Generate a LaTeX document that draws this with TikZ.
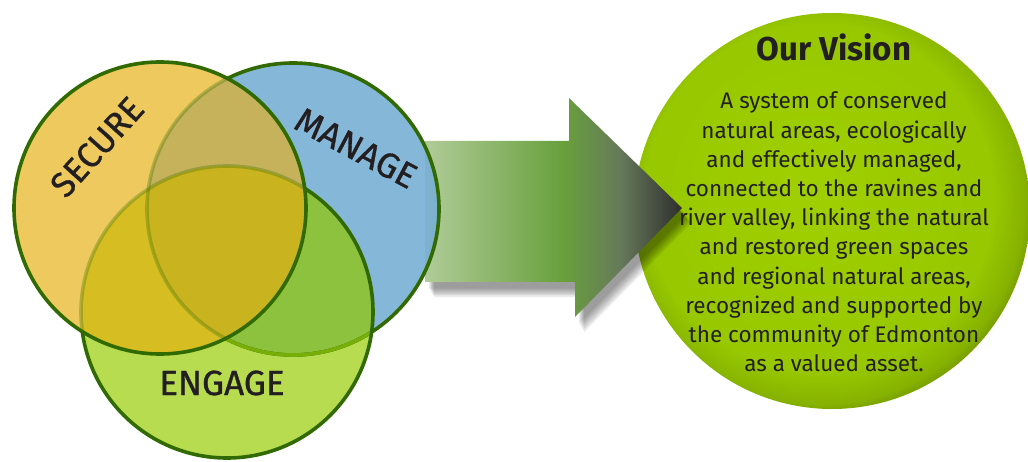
\documentclass[tikz,border=0pt]{standalone}
\usepackage{fontspec}
\setmainfont{Fira Sans}
\newfontfamily\labelfont{Fira Sans}[FakeBold=0.9]
\definecolor{blueF}{HTML}{78AFD4}
\definecolor{greenF}{HTML}{B8DC50}
\definecolor{yellowF}{HTML}{EDC95E}
\definecolor{ybF}{HTML}{C5B25A}
\definecolor{ygF}{HTML}{D6BE22}
\definecolor{ybgF}{HTML}{C9B31E}
\definecolor{bgF}{HTML}{8DC23F}
\definecolor{edgeC}{HTML}{306A00}
\definecolor{lightEdge}{HTML}{78AE08}
\definecolor{txt}{HTML}{231F20}
\definecolor{arL}{HTML}{B0CB98}
\definecolor{arM}{HTML}{68A03C}
\definecolor{arD}{HTML}{66795A}
\definecolor{arK}{HTML}{2E2E2E}
\definecolor{vA}{HTML}{A0D000}
\definecolor{vB}{HTML}{97C800}
\definecolor{vC}{HTML}{86B200}
\definecolor{vD}{HTML}{6A8E00}
\pgfdeclarehorizontalshading{arrowshade}{100bp}{color(0bp)=(arL); color(25bp)=(arL); color(52bp)=(arM); color(63bp)=(arD); color(75bp)=(arK); color(100bp)=(arK)}
\pgfdeclareradialshading{visionshade}{\pgfpoint{-3bp}{3bp}}{color(0bp)=(vA); color(22bp)=(vB); color(25.8bp)=(vC); color(28bp)=(vD); color(50bp)=(vD)}
\tikzset{
  edge/.style={line width=3.6pt, draw=edgeC},
  softedge/.style={line width=3.6pt, draw=edgeC, draw opacity=0.3},
  label/.style={text=txt, font=\labelfont\fontsize{35}{40}\selectfont, inner sep=0pt},
  title/.style={text=txt, font=\bfseries\fontsize{33}{38}\selectfont, inner sep=0pt},
  body/.style={text=txt, font=\fontsize{22.5}{29.2}\selectfont, align=center, inner sep=0pt},
}
\newcommand{\arrowpath}{(425,141) -- (569,141) -- (569,98) -- (682,208) -- (575,317) -- (575,282) -- (425,282) -- cycle}
\begin{document}
\begin{tikzpicture}[x=1pt,y=-1pt]
\useasboundingbox (0,0) rectangle (1028,462);
\coordinate (cY) at (160,208);
\coordinate (cB) at (293,209);
\coordinate (cG) at (227,312);
\coordinate (cV) at (832,211);
% vision circle
\shade[shading=visionshade] (cV) circle (198pt);
% arrow shadow
\foreach \i in {1,...,6} {
  \fill[black, opacity=0.08, shift={(3+\i,5+1.7*\i)}] \arrowpath;
}
% arrow
\shade[shading=arrowshade] \arrowpath;
% blue and green circles
\fill[blueF, opacity=0.9] (cB) circle (146pt);
\fill[greenF] (cG) circle (146pt);
\begin{scope}
  \clip (cB) circle (146pt);
  \fill[bgF] (cG) circle (146pt);
\end{scope}
\draw[edge] (cB) circle (146pt);
\begin{scope}
  \clip (cG) circle (146pt);
  \draw[edge, draw=lightEdge] (cB) circle (146pt);
\end{scope}
\draw[edge] (cG) circle (146pt);
% yellow circle on top
\fill[yellowF] (cY) circle (146pt);
\begin{scope}
  \clip (cY) circle (146pt);
  \fill[ybF] (cB) circle (146pt);
  \fill[ygF] (cG) circle (146pt);
  \begin{scope}
    \clip (cB) circle (146pt);
    \fill[ybgF] (cG) circle (146pt);
  \end{scope}
\end{scope}
\begin{scope}
  \clip (cY) circle (146pt);
  \draw[softedge] (cB) circle (146pt);
  \draw[softedge] (cG) circle (146pt);
\end{scope}
\draw[edge] (cY) circle (146pt);
% labels
\node[label, rotate=48] (secure) at (97,147) {SECURE};
\node[label, rotate=-28] (manage) at (356,148) {MANAGE};
\node[label] (engage) at (222,383) {ENGAGE};
% vision text
\node[title] (vtitle) at (834,47) {Our Vision};
\node[body] (vbody) at (834,232) {A system of conserved\\natural areas, ecologically\\and effectively managed,\\connected to the ravines and\\river valley, linking the natural\\and restored green spaces\\and regional natural areas,\\recognized and supported by\\the community of Edmonton\\as a valued asset.};
\end{tikzpicture}
\end{document}
